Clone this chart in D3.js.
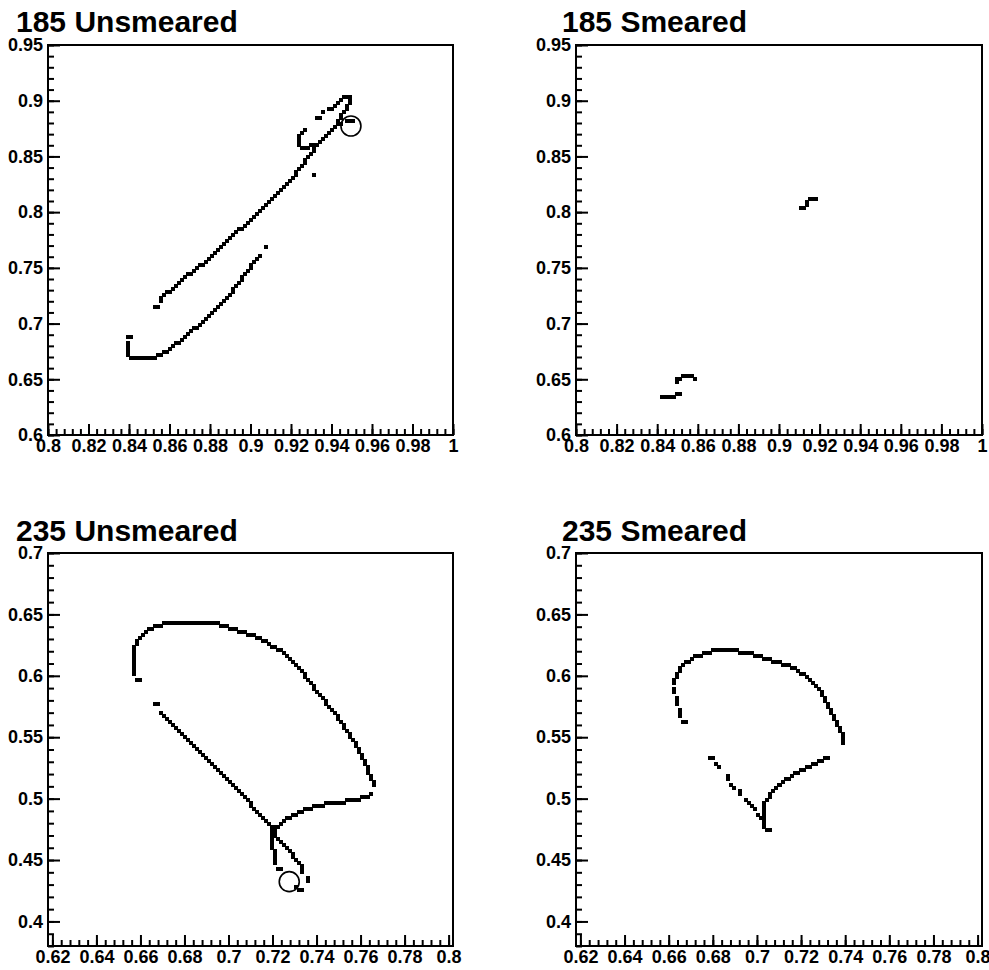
<!DOCTYPE html>
<html>
<head>
<meta charset="utf-8">
<script src="https://cdn.jsdelivr.net/npm/d3@7"></script>
<style>
  body { margin: 0; background: #fff; }
  text { font-family: "Liberation Sans", Arial, Helvetica, sans-serif; font-weight: bold; fill: #000; }
</style>
</head>
<body>
<svg id="chart" width="989" height="970"></svg>
<script>
// ---- Histogram binning (x range, y range, number of bins) ----
const bins185 = { x: [0.8, 1.0], y: [0.6, 0.95], nx: 135, ny: 130 };
const bins235 = { x: [0.618, 0.802], y: [0.38, 0.7], nx: 135, ny: 131 };

// ---- Tick labels ----
const xTicks185 = [0.8, 0.82, 0.84, 0.86, 0.88, 0.9, 0.92, 0.94, 0.96, 0.98, 1];
const yTicks185 = [0.6, 0.65, 0.7, 0.75, 0.8, 0.85, 0.9, 0.95];
const xTicks235 = [0.62, 0.64, 0.66, 0.68, 0.7, 0.72, 0.74, 0.76, 0.78, 0.8];
const yTicks235 = [0.4, 0.45, 0.5, 0.55, 0.6, 0.65, 0.7];

// ---- Filled bins [ix, iy] ----
const cells185Unsmeared = [
  // upper band
  [35,42],[36,42],[37,44],[37,45],[38,46],[39,47],[40,47],[41,48],[42,49],[43,50],[44,51],[45,52],[46,53],[47,53],
  [48,54],[49,55],[50,56],[51,56],[52,57],[53,58],[54,59],[55,60],[56,61],[57,62],[58,63],[59,64],[60,65],[61,66],
  [62,67],[63,68],[64,68],[65,69],[66,70],[67,71],[68,72],[69,73],[70,74],[71,75],[72,76],[73,77],[74,78],[75,79],
  [76,80],[77,81],[78,82],[79,83],[80,84],[81,85],[82,86],[82,87],[83,88],[84,89],[85,90],[85,91],[86,92],[87,93],
  [88,94],[88,95],[89,96],[90,97],[91,98],[92,99],[93,100],[94,101],[95,102],[96,103],[96,104],[97,105],[97,106],
  [98,107],[99,108],[99,109],[100,110],[100,111],[100,112],[99,112],[98,112],[97,111],[96,110],[95,109],[94,108],[93,108],
  [97,103],[99,104],[100,104],[101,104],
  [91,107],[89,105],[90,105],[88,86],
  [85,101],[84,100],[83,99],[83,98],[83,97],[83,96],[84,95],[85,95],[86,95],[87,96],[88,96],
  // lower band
  [72,62],[70,59],[69,58],[68,57],[67,56],[67,55],[66,54],[65,53],[64,52],[64,51],[63,50],[62,49],[61,48],[61,47],
  [60,46],[59,45],[58,44],[57,43],[56,42],[55,41],[54,40],[53,39],[52,38],[51,37],[50,36],[49,35],[48,35],[47,34],
  [46,33],[45,32],[44,31],[43,30],[42,30],[41,29],[40,28],[39,27],[38,27],[37,26],[36,26],[35,25],[34,25],[33,25],
  [32,25],[31,25],[30,25],[29,25],[28,25],[27,25],[26,26],[26,27],[26,28],[26,29],[26,30],[26,32],[27,32]
];

const cells185Smeared = [
  [28,12],[29,12],[30,12],[31,12],[32,12],[33,13],[34,13],
  [33,17],[33,18],[34,18],[35,19],[36,19],[37,19],[38,19],[39,18],
  [74,75],[75,75],[76,76],[76,77],[77,78],[78,78],[79,78]
];

const cells235Unsmeared = [
  // outer arc
  [29,88],[30,88],
  [28,90],[28,91],[28,92],[28,93],[28,94],[28,95],[28,96],[28,97],[28,98],[28,99],
  [29,100],[29,101],[30,102],[31,103],[32,104],[33,105],[34,105],[35,106],[36,106],[37,106],[38,107],[39,107],
  [40,107],[41,107],[42,107],[43,107],[44,107],[45,107],[46,107],[47,107],[48,107],[49,107],[50,107],[51,107],
  [52,107],[53,107],[54,107],[55,107],[56,107],
  [57,106],[58,106],[59,106],[60,105],[61,105],[62,105],[63,104],[64,104],[65,104],[66,103],[67,103],[68,103],
  [69,102],[70,102],[71,101],[72,101],[73,100],[74,99],[75,99],[76,98],[77,98],[78,97],[79,96],[80,95],[81,94],
  [82,93],[83,92],[84,91],[85,90],[85,89],[86,88],[87,87],[88,86],[88,85],[89,84],[90,83],[91,82],[92,81],[92,80],
  [93,79],[94,78],[95,77],[96,76],[96,75],[97,74],[98,73],[98,72],[99,71],[100,70],[100,69],[101,68],[102,67],
  [102,66],[103,65],[103,64],[104,63],[104,62],[105,61],[105,60],[106,59],[106,58],[106,57],[107,56],[107,55],
  [108,54],[108,53],
  // right branch
  [107,50],[106,49],[105,49],[104,49],[103,48],[102,48],[101,48],[100,48],[99,48],[98,47],[97,47],[96,47],[95,47],
  [94,47],[93,47],[92,47],[91,46],[90,46],[89,46],[88,46],[87,45],[86,45],[85,45],[84,44],[83,44],[82,43],[81,43],
  [80,42],[79,42],[78,41],[77,40],[76,39],
  // diagonal
  [35,80],[36,80],[37,77],[38,76],[39,75],[40,74],[41,73],[42,72],[43,71],[44,70],[45,69],[46,68],[47,67],[48,66],
  [49,65],[50,64],[51,63],[52,62],[53,61],[54,60],[55,59],[56,58],[57,57],[58,56],[59,55],[60,54],[61,53],[62,52],
  [63,51],[64,50],[65,49],[66,48],[67,47],[67,46],[68,45],[69,44],[70,43],[71,42],[72,41],[73,40],
  // crossing and tails
  [74,36],[74,37],[74,38],[74,39],[75,36],[75,37],[75,38],[75,39],
  [74,35],[74,34],[74,33],[74,32],[75,31],[75,30],[75,29],[75,28],[75,27],[76,25],[77,25],
  [76,35],[77,34],[78,33],[79,32],[80,31],[81,30],[81,29],[82,28],[83,27],[84,26],[84,25],[84,24],
  [86,22],[86,21],[82,19],[83,18],[84,18]
];

const cells235Smeared = [
  // arc
  [35,74],[36,74],[34,76],[34,77],[34,78],[33,80],[33,81],[33,82],[32,84],[32,85],[32,87],[32,88],[33,89],[33,90],
  [34,91],[34,92],[35,93],[36,94],[37,94],[38,95],[39,96],[40,96],[41,96],[42,97],[43,97],[44,97],[45,98],[46,98],
  [47,98],[48,98],[49,98],[50,98],[51,98],[52,98],[53,98],[54,97],[55,97],[56,97],[57,97],[58,97],[59,96],[60,96],
  [61,96],[62,95],[63,95],[64,95],[65,94],[66,94],[67,94],[68,93],[69,93],[70,93],[71,92],[72,92],[73,91],[74,90],
  [75,90],[76,89],[77,88],[78,87],[79,86],[80,85],[81,84],[81,83],[82,82],[82,81],[83,80],[83,79],[84,78],[84,77],
  [85,76],[85,75],[86,74],[86,73],[87,72],[87,71],[88,70],[88,69],[88,68],[88,67],
  // lower V
  [44,62],[45,62],[46,60],[47,59],[50,56],[50,55],[51,53],[52,52],[54,51],[54,50],[56,48],[57,47],[58,46],[59,45],
  [60,43],[61,42],[62,39],[62,40],[62,41],[62,42],[62,43],[62,44],[62,45],[62,46],[62,47],[63,38],[64,38],
  [63,48],[64,49],[64,50],[65,51],[66,52],[67,53],[68,54],[69,55],[70,55],[71,56],[72,57],[73,57],[74,58],[75,58],
  [76,59],[77,59],[78,60],[79,60],[80,61],[81,61],[82,62],[83,62]
];

// ---- Reference point markers ----
const marker185 = [0.9496, 0.8773];
const marker235 = [0.7276, 0.4324];

const panels = [
  { title: "185 Unsmeared", tx: 16,  ty: 32,  frame: [48, 45, 453, 435],  bins: bins185,
    xTicks: xTicks185, yTicks: yTicks185, xMinor: 0.004, yMinor: 0.01, cells: cells185Unsmeared, marker: marker185 },
  { title: "185 Smeared",   tx: 562, ty: 32,  frame: [576, 45, 982, 435], bins: bins185,
    xTicks: xTicks185, yTicks: yTicks185, xMinor: 0.004, yMinor: 0.01, cells: cells185Smeared, marker: null },
  { title: "235 Unsmeared", tx: 16,  ty: 541, frame: [48, 553, 453, 946], bins: bins235,
    xTicks: xTicks235, yTicks: yTicks235, xMinor: 0.004, yMinor: 0.01, cells: cells235Unsmeared, marker: marker235 },
  { title: "235 Smeared",   tx: 562, ty: 541, frame: [576, 553, 982, 946], bins: bins235,
    xTicks: xTicks235, yTicks: yTicks235, xMinor: 0.004, yMinor: 0.01, cells: cells235Smeared, marker: null }
];

const FONT = "'Liberation Sans', Arial, Helvetica, sans-serif";
const svg = d3.select("#chart");
const fmt = d => String(+d.toFixed(3));

function minorTicks(domain, step) {
  const out = [];
  const start = Math.ceil(domain[0] / step - 1e-6);
  const end = Math.floor(domain[1] / step + 1e-6);
  for (let k = start; k <= end; k++) out.push(+(k * step).toFixed(4));
  return out;
}

panels.forEach(p => {
  const [x0, y0, x1, y1] = p.frame;
  const b = p.bins;
  const xs = d3.scaleLinear().domain(b.x).range([x0, x1]);
  const ys = d3.scaleLinear().domain(b.y).range([y1, y0]);
  const dx = (b.x[1] - b.x[0]) / b.nx;
  const dy = (b.y[1] - b.y[0]) / b.ny;

  const g = svg.append("g");

  // filled bins, drawn as slightly enlarged boxes so neighbours join up
  g.append("g").attr("shape-rendering", "crispEdges")
    .selectAll("rect").data(p.cells).join("rect")
    .attr("x", d => xs(b.x[0] + d[0] * dx))
    .attr("y", d => ys(b.y[0] + (d[1] + 1) * dy) - 1)
    .attr("width", d => xs(b.x[0] + (d[0] + 1) * dx) - xs(b.x[0] + d[0] * dx) + 1)
    .attr("height", d => ys(b.y[0] + d[1] * dy) - ys(b.y[0] + (d[1] + 1) * dy) + 1)
    .attr("fill", "#000");

  // marker
  if (p.marker) {
    g.append("circle")
      .attr("cx", xs(p.marker[0])).attr("cy", ys(p.marker[1])).attr("r", 10)
      .attr("fill", "none").attr("stroke", "#000").attr("stroke-width", 1.6);
  }

  // minor ticks (inside the frame)
  const xMinorAxis = d3.axisBottom(xs).tickValues(minorTicks(b.x, p.xMinor)).tickSize(-6).tickFormat("");
  const yMinorAxis = d3.axisLeft(ys).tickValues(minorTicks(b.y, p.yMinor)).tickSize(-6).tickFormat("");
  g.append("g").attr("transform", `translate(0,${y1})`).call(xMinorAxis);
  g.append("g").attr("transform", `translate(${x0},0)`).call(yMinorAxis);

  // major ticks with labels
  const xAxis = d3.axisBottom(xs).tickValues(p.xTicks).tickSize(-11).tickPadding(4).tickFormat(fmt);
  const yAxis = d3.axisLeft(ys).tickValues(p.yTicks).tickSize(-12).tickPadding(5).tickFormat(fmt);
  g.append("g").attr("class", "xa").attr("transform", `translate(0,${y1})`).call(xAxis);
  g.append("g").attr("class", "ya").attr("transform", `translate(${x0},0)`).call(yAxis);

  g.selectAll(".domain").remove();
  g.selectAll(".tick line").attr("stroke", "#000").attr("stroke-width", 2);
  g.selectAll("g").attr("font-family", FONT).attr("font-weight", "bold");
  g.selectAll(".tick text")
    .attr("font-size", 18).attr("font-family", FONT).attr("font-weight", "bold")
    .style("font-weight", "bold").attr("fill", "#000");
  g.selectAll(".xa .tick text").attr("dy", "0.72em");

  // frame
  g.append("rect").attr("x", x0).attr("y", y0).attr("width", x1 - x0).attr("height", y1 - y0)
    .attr("fill", "none").attr("stroke", "#000").attr("stroke-width", 2);

  // title
  svg.append("text").attr("x", p.tx).attr("y", p.ty)
    .attr("font-family", FONT).attr("font-weight", "bold").attr("font-size", 30).text(p.title);
});
</script>
</body>
</html>
